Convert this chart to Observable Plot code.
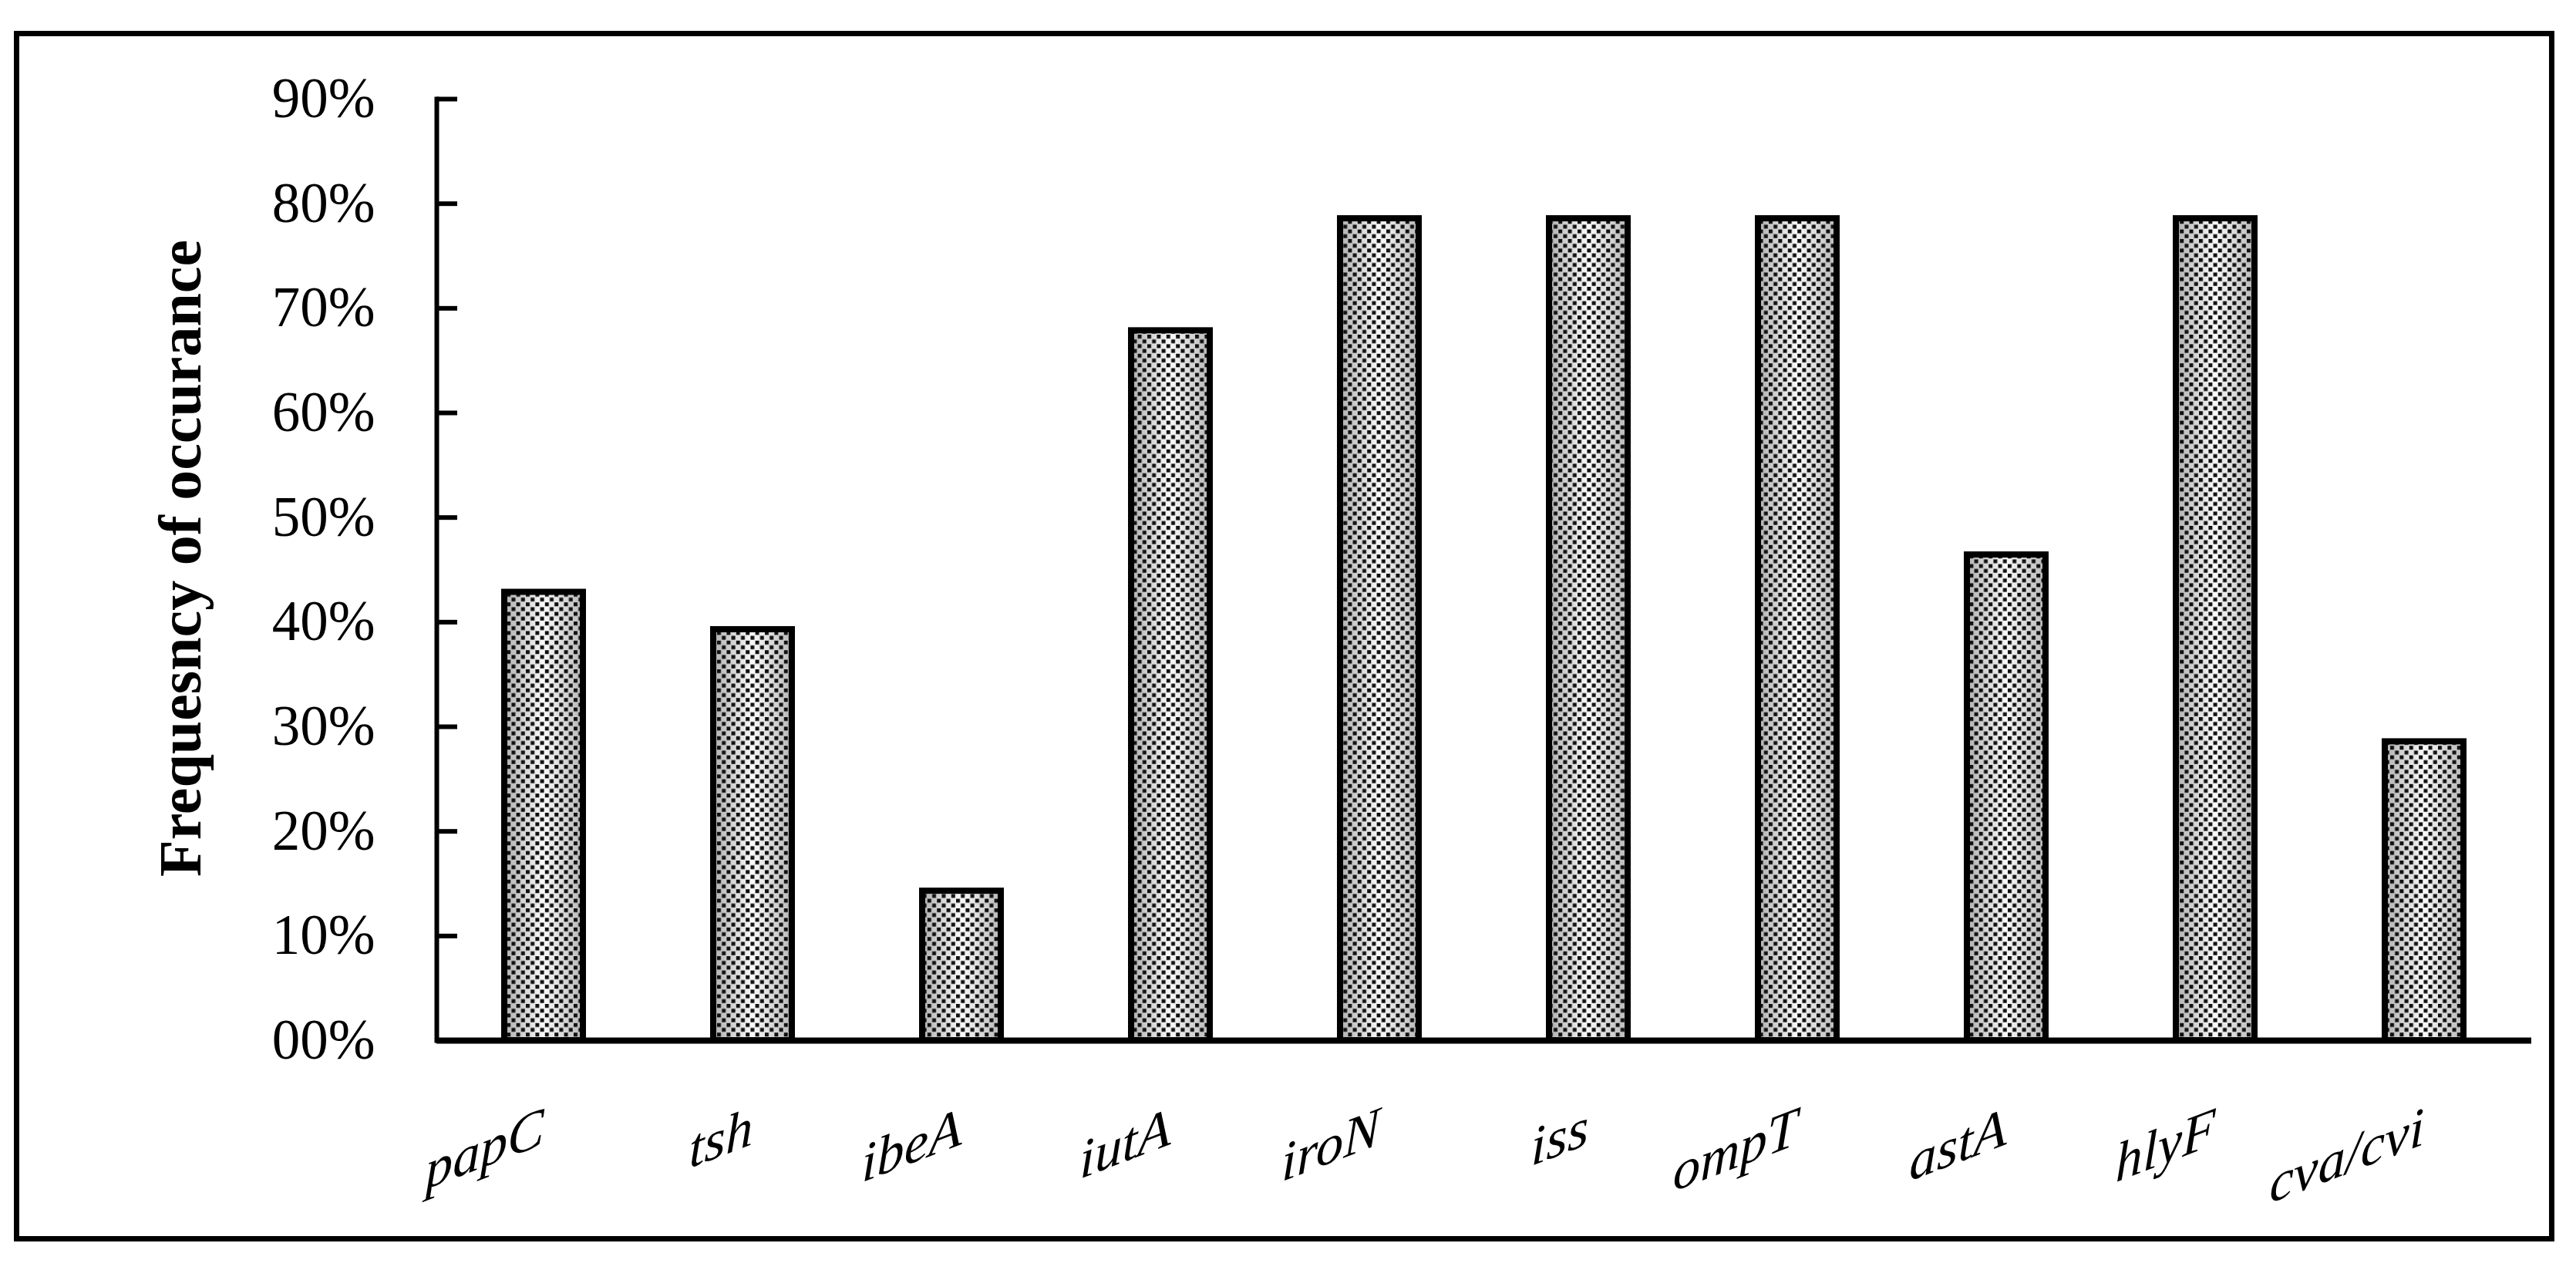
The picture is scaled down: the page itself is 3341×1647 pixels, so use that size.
<!DOCTYPE html>
<html><head><meta charset="utf-8">
<script src="https://cdn.jsdelivr.net/npm/d3@7"></script>
<script src="https://cdn.jsdelivr.net/npm/@observablehq/plot@0.6"></script>
<style>
html,body{margin:0;padding:0;background:#fff;}
#wrap{position:relative;width:3341px;height:1647px;overflow:hidden;}
#border{position:absolute;left:18px;top:40px;width:3295px;height:1570px;border:7px solid #000;box-sizing:border-box;pointer-events:none;}
</style></head><body>
<div id="wrap"><div id="chart"></div><div id="border"></div></div>
<script>
// ---- data ----
const genes = ["papC", "tsh", "ibeA", "iutA", "iroN", "iss", "ompT", "astA", "hlyF", "cva/cvi"];
const frequency = [0.4286, 0.3929, 0.1429, 0.6786, 0.7857, 0.7857, 0.7857, 0.4643, 0.7857, 0.2857];
const yTicks = [0, 0.1, 0.2, 0.3, 0.4, 0.5, 0.6, 0.7, 0.8, 0.9];
const yTickLabels = ["00%", "10%", "20%", "30%", "40%", "50%", "60%", "70%", "80%", "90%"];
const yLabel = "Frequesncy of occurance";

const data = genes.map((g, i) => ({gene: g, value: frequency[i]}));

const W = 3341, H = 1647, mL = 566, mR = 58, mT = 128, mB = 298;

const chart = Plot.plot({
  width: W, height: H,
  marginLeft: mL, marginRight: mR, marginTop: mT, marginBottom: mB,
  style: {fontFamily: "'Liberation Serif', 'Times New Roman', serif", fontSize: "73px", background: "white", color: "black"},
  x: {type: "band", domain: genes, paddingInner: 0.625, paddingOuter: 0.3125, axis: null},
  y: {domain: [0, 0.9]},
  marks: [
    Plot.barY(data, {x: "gene", y: "value", fill: "url(#barGrad)"}),
    Plot.barY(data, {x: "gene", y: "value", fill: "url(#barDots)", stroke: "black", strokeWidth: 8}),
    Plot.ruleY([0], {stroke: "black", strokeWidth: 8}),
    Plot.frame({anchor: "left", stroke: "black", strokeWidth: 6}),
    Plot.tickY(yTicks, {y: d => d, stroke: "black", strokeWidth: 6, insetRight: W - mL - mR - 27}),
    Plot.axisY({ticks: yTicks, tickFormat: (d) => yTickLabels[yTicks.indexOf(d)], tickSize: 0, tickPadding: 80, label: null, fontSize: 73}),
    Plot.text(genes, {x: d => d, y: () => 0, text: d => d, dy: 134, textAnchor: "end", lineAnchor: "bottom",
      fontStyle: "italic", fontSize: 71}),
    Plot.text([yLabel], {frameAnchor: "left", rotate: -90, dx: -307, dy: -15, textAnchor: "middle",
      lineAnchor: "bottom", fontWeight: "bold", fontSize: 78})
  ]
});

document.getElementById("chart").appendChild(chart);

const svg = d3.select(chart);
const defs = svg.insert("defs", ":first-child");
const grad = defs.append("linearGradient").attr("id", "barGrad")
  .attr("x1", "0").attr("x2", "1").attr("y1", "0").attr("y2", "0");
grad.append("stop").attr("offset", "0%").attr("stop-color", "#b0b0b0");
grad.append("stop").attr("offset", "50%").attr("stop-color", "#fafafa");
grad.append("stop").attr("offset", "100%").attr("stop-color", "#b8b8b8");
const pat = defs.append("pattern").attr("id", "barDots").attr("patternUnits", "userSpaceOnUse")
  .attr("width", 12.4).attr("height", 12.4);
pat.append("rect").attr("x", 0).attr("y", 0).attr("width", 5).attr("height", 5).attr("fill", "#111");
pat.append("rect").attr("x", 6.2).attr("y", 6.2).attr("width", 5).attr("height", 5).attr("fill", "#111");

// skew the gene labels (baseline rising to the right, glyphs kept upright-italic)
svg.selectAll("text").each(function() {
  if (!genes.includes(this.textContent)) return;
  const t = this.getAttribute("transform");
  if (t) {
    this.setAttribute("transform", t + " skewY(-21)");
  } else {
    const x = parseFloat(this.getAttribute("x") || "0");
    const yAttr = this.getAttribute("y") || "0";
    if (yAttr.endsWith("em")) {
      this.setAttribute("transform", `translate(${x},0) skewY(-21)`);
      this.removeAttribute("x");
    } else {
      this.setAttribute("transform", `translate(${x},${parseFloat(yAttr)}) skewY(-21)`);
      this.removeAttribute("x");
      this.removeAttribute("y");
    }
  }
});
</script>
</body></html>
